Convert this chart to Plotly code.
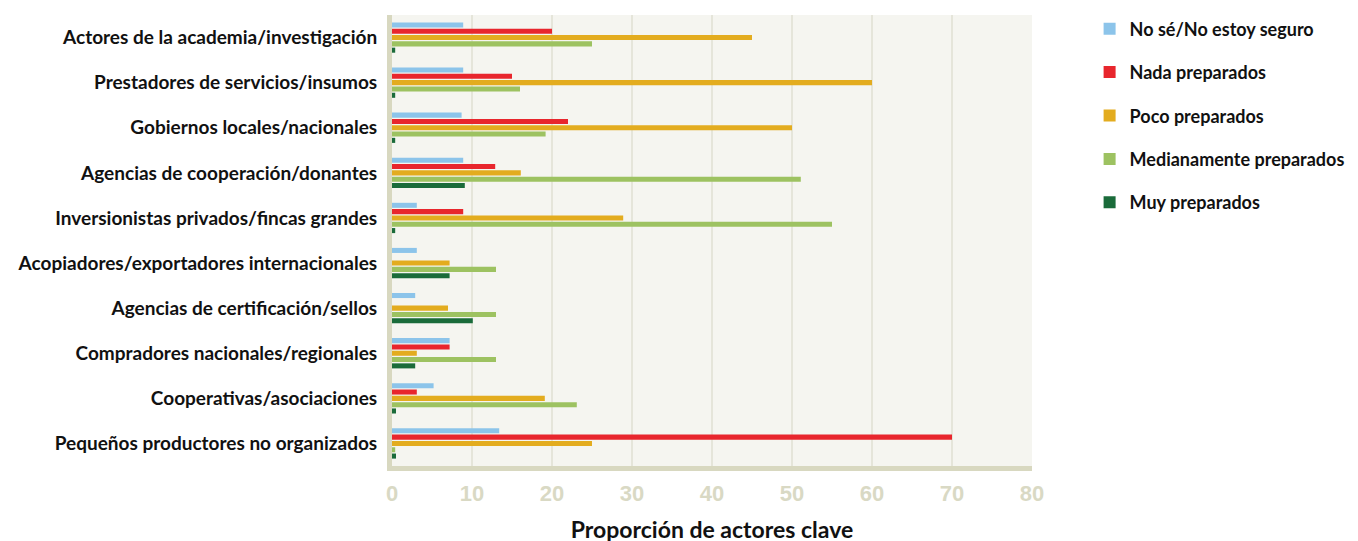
import plotly.graph_objects as go

categorias = [
    "Actores de la academia/investigación",
    "Prestadores de servicios/insumos",
    "Gobiernos locales/nacionales",
    "Agencias de cooperación/donantes",
    "Inversionistas privados/fincas grandes",
    "Acopiadores/exportadores internacionales",
    "Agencias de certificación/sellos",
    "Compradores nacionales/regionales",
    "Cooperativas/asociaciones",
    "Pequeños productores no organizados",
]

no_se = [8.9, 8.9, 8.7, 8.9, 3.1, 3.1, 2.9, 7.2, 5.2, 13.4]
nada = [20, 15, 22, 12.9, 8.9, 0, 0, 7.2, 3.1, 70]
poco = [45, 60, 50, 16.1, 28.9, 7.2, 7.0, 3.1, 19.1, 25]
mediana = [25, 16, 19.2, 51.1, 55, 13, 13, 13, 23.1, 0.4]
muy = [0.4, 0.4, 0.4, 9.1, 0.4, 7.2, 10.1, 2.9, 0.5, 0.5]

series = [
    ("No sé/No estoy seguro", no_se, "#8cc4ea"),
    ("Nada preparados", nada, "#e8262d"),
    ("Poco preparados", poco, "#e3ac1f"),
    ("Medianamente preparados", mediana, "#9dc261"),
    ("Muy preparados", muy, "#1a6b3a"),
]

_FONT = "Lato"

fig = go.Figure()
for nombre, valores, color in series:
    fig.add_trace(go.Bar(
        y=categorias, x=valores, name=nombre, orientation="h",
        legendgroup=nombre,
        marker=dict(color=color, line=dict(width=0)),
    ))

# la página añade 8px de margen al body: se compensa en los márgenes
fig.update_layout(
    width=1358, height=541,
    barmode="group", bargap=0.3, bargroupgap=0.2,
    paper_bgcolor="white", plot_bgcolor="#f5f5f0",
    margin=dict(l=384, r=334, t=7, b=83, autoexpand=False),
    font=dict(family=_FONT, color="#111111"),
    legend=dict(x=1.09, y=1.01, xanchor="left", yanchor="top",
                font=dict(family=_FONT, size=18, color="#111111", weight="bold"),
                tracegroupgap=17, itemwidth=30, bgcolor="rgba(0,0,0,0)"),
)
fig.update_xaxes(
    range=[0, 80], dtick=10, showgrid=True, gridcolor="#e5e5da", gridwidth=2,
    showline=True, linecolor="#d8d8c0", linewidth=5, zeroline=False,
    tickfont=dict(family="Liberation Sans", size=22, color="#d9d9c4", weight="bold"),
    ticks="", ticklabelstandoff=4,
    title=dict(text="Proporción de actores clave", standoff=18,
               font=dict(family=_FONT, size=23, color="#111111", weight="bold")),
)
fig.update_yaxes(
    autorange="reversed", showline=True, linecolor="#d8d8c0", linewidth=5,
    showgrid=False, ticks="", ticklabelstandoff=6,
    tickfont=dict(family=_FONT, size=19, color="#111111", weight="bold"),
)

fig.write_html("out.html")
